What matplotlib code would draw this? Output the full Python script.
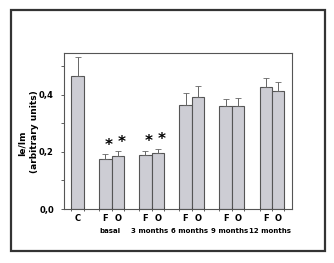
import numpy as np
import matplotlib
matplotlib.use("Agg")
import matplotlib.pyplot as plt
from matplotlib.patches import Rectangle
import matplotlib.transforms as mtransforms

# control bar + F/O pairs per time point
groups = ["basal", "3 months", "6 months", "9 months", "12 months"]
ctrl_val, ctrl_err = 0.465, 0.069
f_vals = [0.175, 0.189, 0.365, 0.361, 0.427]
f_errs = [0.017, 0.014, 0.041, 0.025, 0.034]
o_vals = [0.187, 0.195, 0.391, 0.362, 0.415]
o_errs = [0.015, 0.017, 0.041, 0.027, 0.029]
signif = [True, True, False, False, False]

fig = plt.figure(figsize=(3.34, 2.63), dpi=100)
fig.patches.append(Rectangle((0.033, 0.046), 0.940, 0.916, transform=fig.transFigure,
                             fill=False, edgecolor="#333333", linewidth=1.6))
ax = fig.add_axes([0.1925, 0.2053, 0.6817, 0.5943])

bar_c = "#cdcdd4"
edge_c = "#555555"
w = 0.31
pos = np.arange(1, len(groups) + 1)
c_pos = 0.15

ekw = dict(ecolor="#666666", elinewidth=0.7, capsize=2, capthick=0.6)
ax.bar(c_pos, ctrl_val, w, color=bar_c, edgecolor=edge_c, linewidth=0.8)
ax.errorbar(c_pos, ctrl_val, yerr=[[0], [ctrl_err]], fmt="none", **ekw)
ax.bar(pos - w / 2, f_vals, w, color=bar_c, edgecolor=edge_c, linewidth=0.8)
ax.bar(pos + w / 2, o_vals, w, color=bar_c, edgecolor=edge_c, linewidth=0.8)
ax.errorbar(pos - w / 2, f_vals, yerr=[np.zeros(5), f_errs], fmt="none", **ekw)
ax.errorbar(pos + w / 2, o_vals, yerr=[np.zeros(5), o_errs], fmt="none", **ekw)

for i, s in enumerate(signif):
    if s:
        ax.text(pos[i] - w / 2 + 0.09, f_vals[i] + f_errs[i] + 0.006, "*",
                ha="center", va="bottom", fontsize=11, fontweight="bold")
        ax.text(pos[i] + w / 2 + 0.09, o_vals[i] + o_errs[i] + 0.006, "*",
                ha="center", va="bottom", fontsize=11, fontweight="bold")

ax.set_xlim(-0.18, 5.5)
ax.set_ylim(0, 0.548)
ax.set_yticks([0, 0.2, 0.4])
ax.set_yticklabels(["0,0", "0,2", "0,4"])
ax.set_yticks([0.1, 0.3, 0.5], minor=True)
edges = [c_pos - w / 2, c_pos + w / 2]
for p in pos:
    edges += [p - w, p, p + w]
ax.set_xticks(edges)
ax.set_xticklabels([])
ax.tick_params(axis="x", direction="inout", length=3, width=0.6, color="#444444")
ax.tick_params(axis="y", which="both", direction="out", length=2.5, width=0.6,
               color="#444444", labelsize=6, pad=5)
for lab in ax.get_yticklabels():
    lab.set_fontweight("bold")
for sp in ax.spines.values():
    sp.set_color("#555555")
    sp.set_linewidth(0.8)

trans = mtransforms.blended_transform_factory(ax.transData, ax.transAxes)
ax.text(c_pos, -0.058, "C", transform=trans, ha="center", va="center",
        fontsize=6, fontweight="bold")
for p, g in zip(pos, groups):
    ax.text(p - w / 2, -0.058, "F", transform=trans, ha="center", va="center",
            fontsize=6, fontweight="bold")
    ax.text(p + w / 2, -0.058, "O", transform=trans, ha="center", va="center",
            fontsize=6, fontweight="bold")
    ax.text(p - 0.05, -0.138, g, transform=trans, ha="center", va="center",
            fontsize=5, fontweight="bold")

fig.text(22.3 / 334, 1 - 143 / 263, "Ie/Im", rotation=90, ha="center", va="center",
         fontsize=6.5, fontweight="bold")
fig.text(34.5 / 334, 1 - 132 / 263, "(arbitrary units)", rotation=90, ha="center",
         va="center", fontsize=6.5, fontweight="bold")

fig.savefig("out.png", dpi=100)
